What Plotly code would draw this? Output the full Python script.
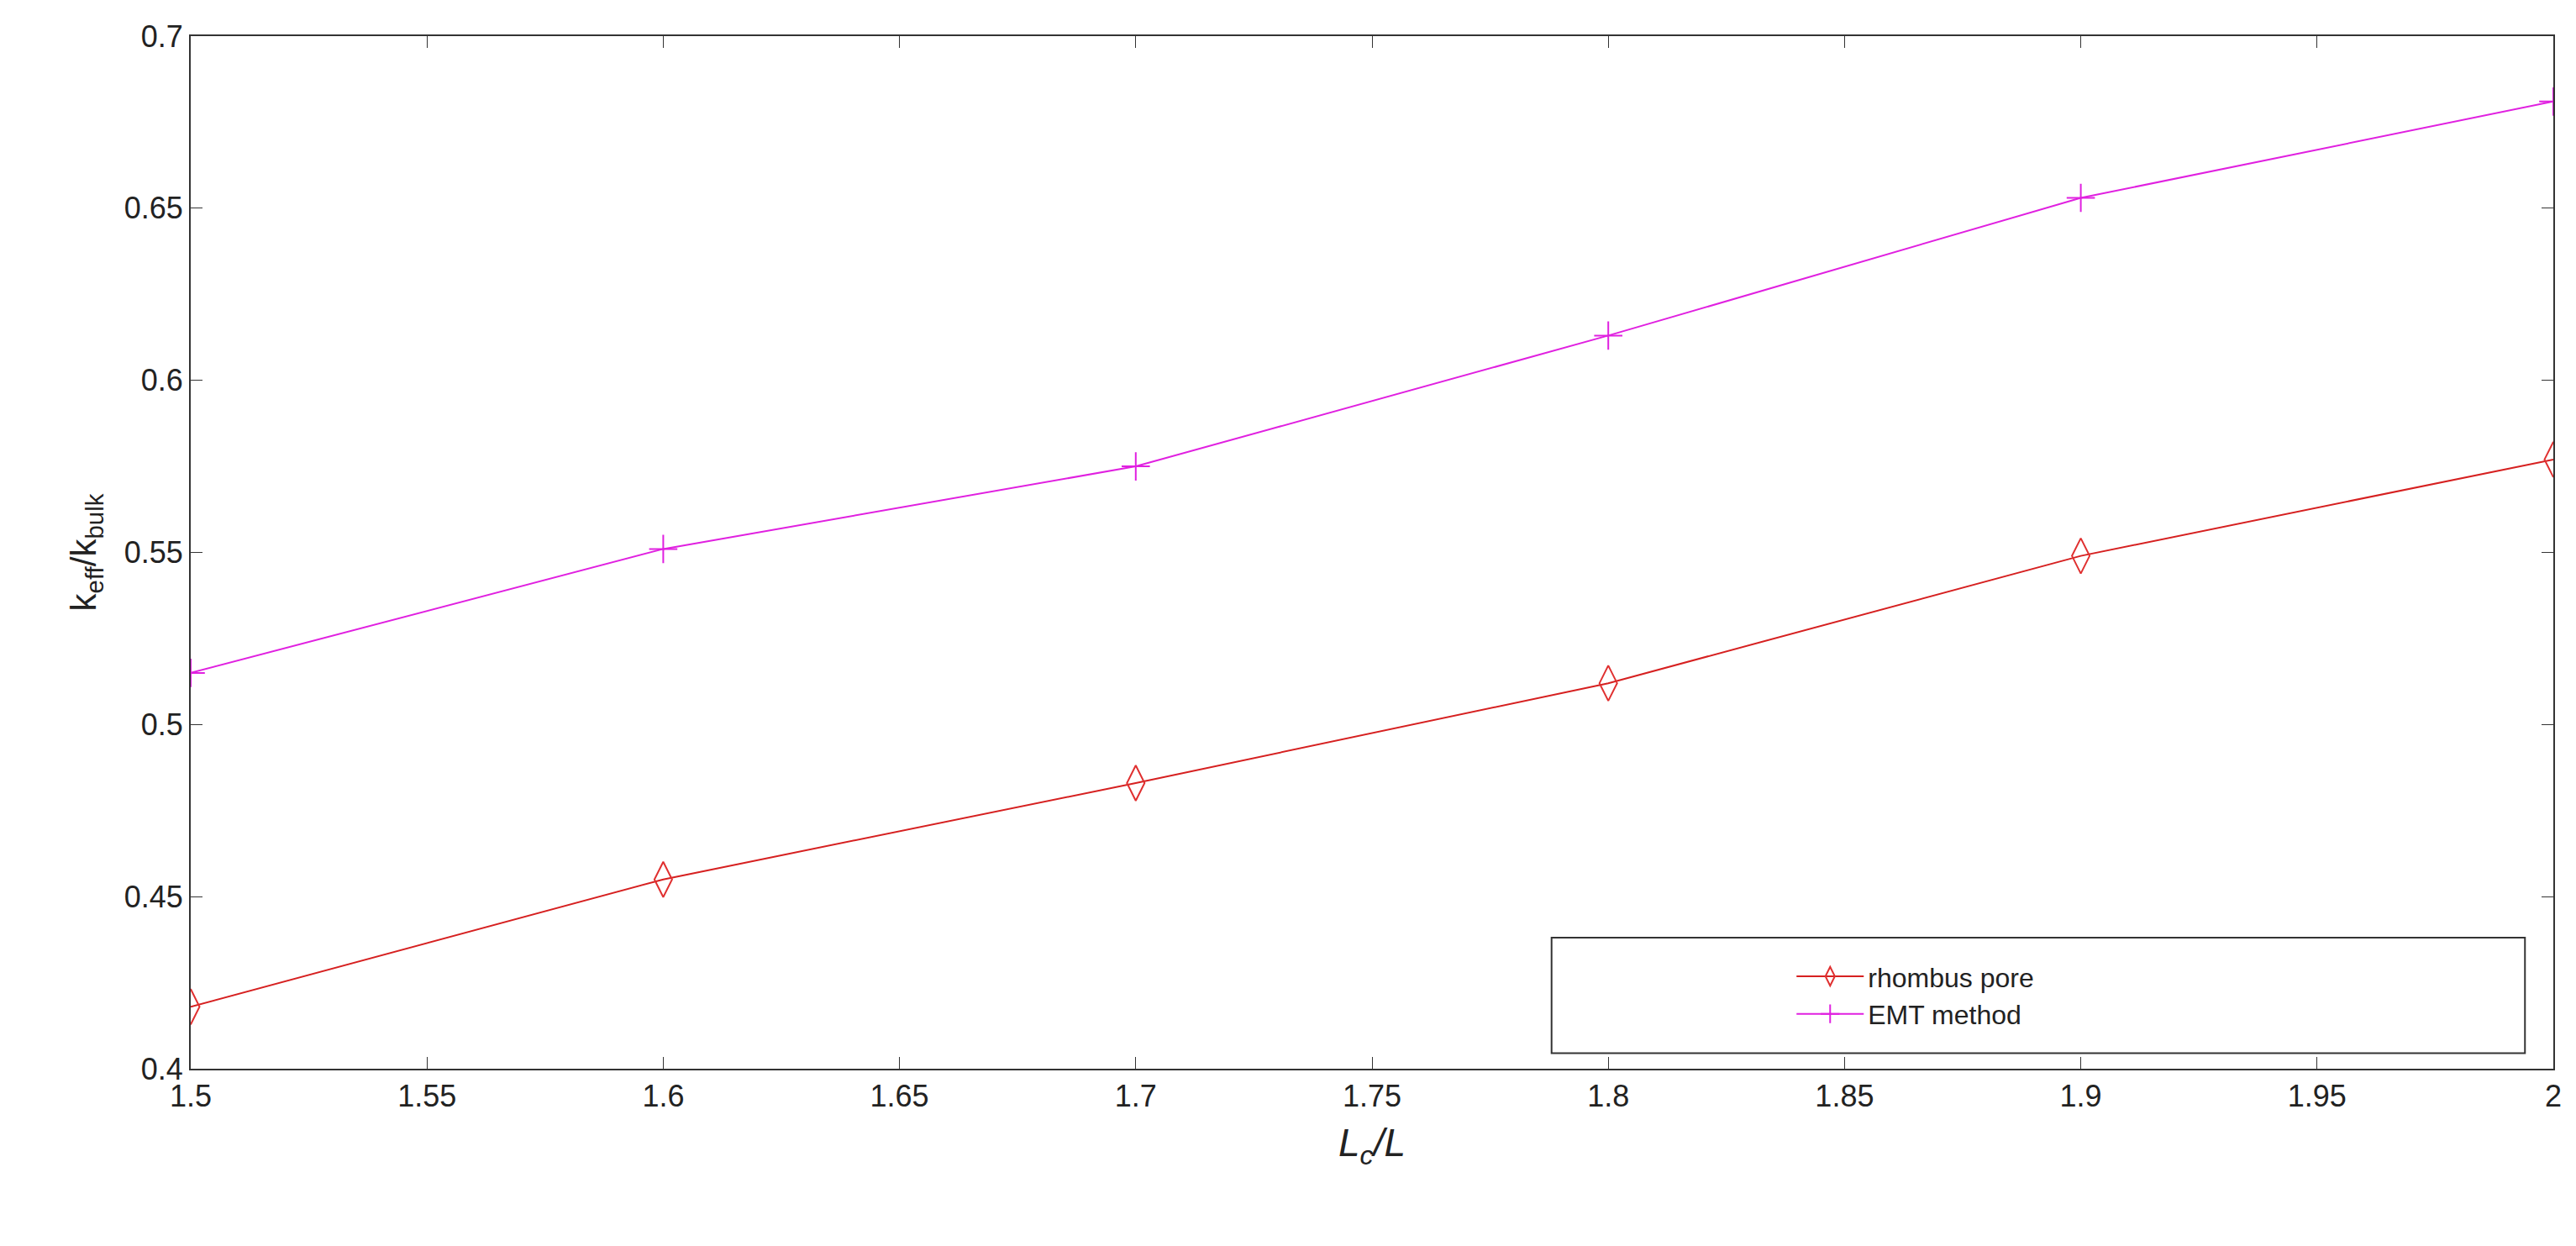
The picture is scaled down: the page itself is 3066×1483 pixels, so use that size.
import plotly.graph_objects as go

x = [1.5, 1.6, 1.7, 1.8, 1.9, 2.0]
rhombus = [0.418, 0.455, 0.483, 0.512, 0.549, 0.577]
emt = [0.515, 0.551, 0.575, 0.613, 0.653, 0.681]

fig = go.Figure()
fig.add_trace(go.Scatter(x=x, y=rhombus, name="rhombus pore", mode="lines+markers",
    line=dict(color="#d62020", width=2),
    marker=dict(symbol="diamond-tall-open", size=30, color="#e03030", line=dict(width=2))))
fig.add_trace(go.Scatter(x=x, y=emt, name="EMT method", mode="lines+markers",
    line=dict(color="#e020e0", width=2),
    marker=dict(symbol="cross-thin-open", size=24, color="#e020e0", line=dict(width=2, color="#e020e0"))))

ax = dict(showline=True, linecolor="#333", linewidth=2, mirror="ticks", ticks="inside",
          ticklen=14, tickcolor="#333", showgrid=False, zeroline=False,
          tickfont=dict(family="Liberation Sans", size=36, color="#222"))
fig.update_xaxes(range=[1.5, 2.0], dtick=0.05, tickformat="~g", **ax,
    title=dict(text="<i>L<sub>c</sub>/L</i>", font=dict(family="Liberation Sans", size=46, color="#222"), standoff=20))
fig.update_yaxes(range=[0.4, 0.7], dtick=0.05, tickformat="~g", **ax,
    title=dict(text="k<sub>eff</sub>/k<sub>bulk</sub>", font=dict(family="Liberation Sans", size=42, color="#222"), standoff=20))
# legend frame
fig.add_shape(type="rect", xref="paper", yref="paper", x0=0.576, x1=0.988, y0=0.015, y1=0.127,
              line=dict(color="#333", width=2), fillcolor="white", layer="below")
fig.update_layout(width=3066, height=1483, plot_bgcolor="white", paper_bgcolor="white",
    margin=dict(l=219, r=35, t=35, b=219),
    legend=dict(x=0.73, y=0.071, xanchor="center", yanchor="middle", borderwidth=0,
        bgcolor="rgba(0,0,0,0)", font=dict(family="Liberation Sans", size=32, color="#222"),
        itemwidth=80, tracegroupgap=10))
fig.write_html("out.html")
